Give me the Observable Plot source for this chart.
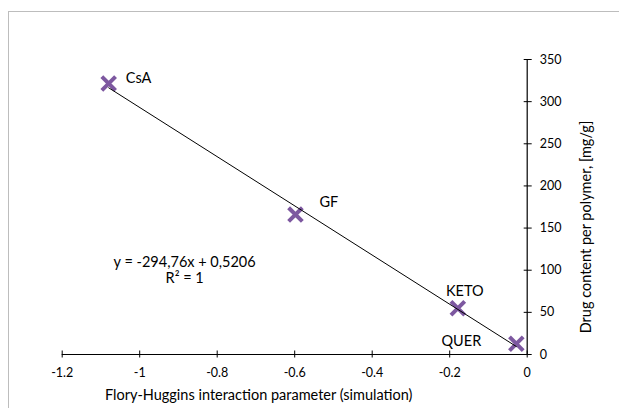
<!DOCTYPE html>
<html>
<head>
<meta charset="utf-8">
<script src="https://cdn.jsdelivr.net/npm/d3@7"></script>
<script src="https://cdn.jsdelivr.net/npm/@observablehq/plot@0.6"></script>
<style>
  html, body { margin: 0; padding: 0; background: #fff; overflow: hidden; }
  #wrap { position: relative; width: 619px; height: 408px; }
  #border { position: absolute; left: 8px; top: 11px; width: 700px; height: 500px;
            border: 1.5px solid #bdbdbd; pointer-events: none; }
</style>
</head>
<body>
<div id="wrap"><div id="border"></div></div>
<script>
const names = ["CsA", "GF", "KETO", "QUER"];
const flory = [-1.080, -0.598, -0.179, -0.028];
const content = [321.5, 166, 54.9, 12.7];
const xTicks = [-1.2, -1, -0.8, -0.6, -0.4, -0.2, 0];
const yTicks = [0, 50, 100, 150, 200, 250, 300, 350];
const xTitle = "Flory-Huggins interaction parameter (simulation)";
const yTitle = "Drug content per polymer, [mg/g]";
const equationText = "y = -294,76x + 0,5206";
const r2Text = "R² = 1";

const rows = names.map((name, i) => ({name, x: flory[i], y: content[i]}));
const pick = n => rows.filter(d => d.name === n);
const font = "Lato, sans-serif";
const fs = 14.5;

const chart = Plot.plot({
  width: 619,
  height: 408,
  marginLeft: 61.7,
  marginRight: 92.3,
  marginTop: 59,
  marginBottom: 54,
  x: {domain: [-1.2, 0]},
  y: {domain: [0, 350]},
  style: {fontFamily: font, fontSize: "12px", color: "#000", background: "transparent"},
  marks: [
    Plot.ruleY([0], {stroke: "#000", strokeWidth: 1.2}),
    Plot.ruleX([0], {stroke: "#000", strokeWidth: 1.2}),
    Plot.axisX(xTicks, {label: null, tickSize: 7, dy: -3.5, tickPadding: 10, tickFormat: d => String(d), stroke: "#000", strokeOpacity: 1, fontSize: 12.5}),
    Plot.axisY(yTicks, {label: null, anchor: "right", tickSize: 8, dx: -4, tickPadding: 8.5, tickFormat: d => String(d), stroke: "#000", strokeOpacity: 1, fontSize: 12.5}),
    Plot.dot(rows, {x: "x", y: "y", symbol: "times", r: 6.3, stroke: "#7D58A0", strokeWidth: 4}),
    Plot.linearRegressionY(rows, {x: "x", y: "y", stroke: "#000", strokeWidth: 1, ci: 0}),
    Plot.text(pick("CsA"), {x: "x", y: "y", text: "name", textAnchor: "start", dx: 17, dy: -5, fontSize: fs}),
    Plot.text(pick("GF"), {x: "x", y: "y", text: "name", textAnchor: "start", dx: 24, dy: -12, fontSize: fs}),
    Plot.text(pick("KETO"), {x: "x", y: "y", text: "name", dx: 7, dy: -17, fontSize: fs}),
    Plot.text(pick("QUER"), {x: "x", y: "y", text: "name", dx: -55, dy: -2, fontSize: fs}),
    Plot.text([equationText + "\n" + r2Text], {x: -0.884, y: 100.5, text: d => d, lineHeight: 1.15, fontSize: fs}),
    Plot.text([xTitle], {frameAnchor: "bottom", text: d => d, textAnchor: "middle", lineAnchor: "middle", dx: -36, dy: 41, fontSize: fs}),
    Plot.text([yTitle], {frameAnchor: "right", text: d => d, textAnchor: "middle", lineAnchor: "middle", rotate: -90, dx: 59.5, dy: 20, fontSize: fs})
  ]
});
chart.style.position = "absolute";
chart.style.left = "0px";
chart.style.top = "0px";
document.getElementById("wrap").prepend(chart);
</script>
</body>
</html>
